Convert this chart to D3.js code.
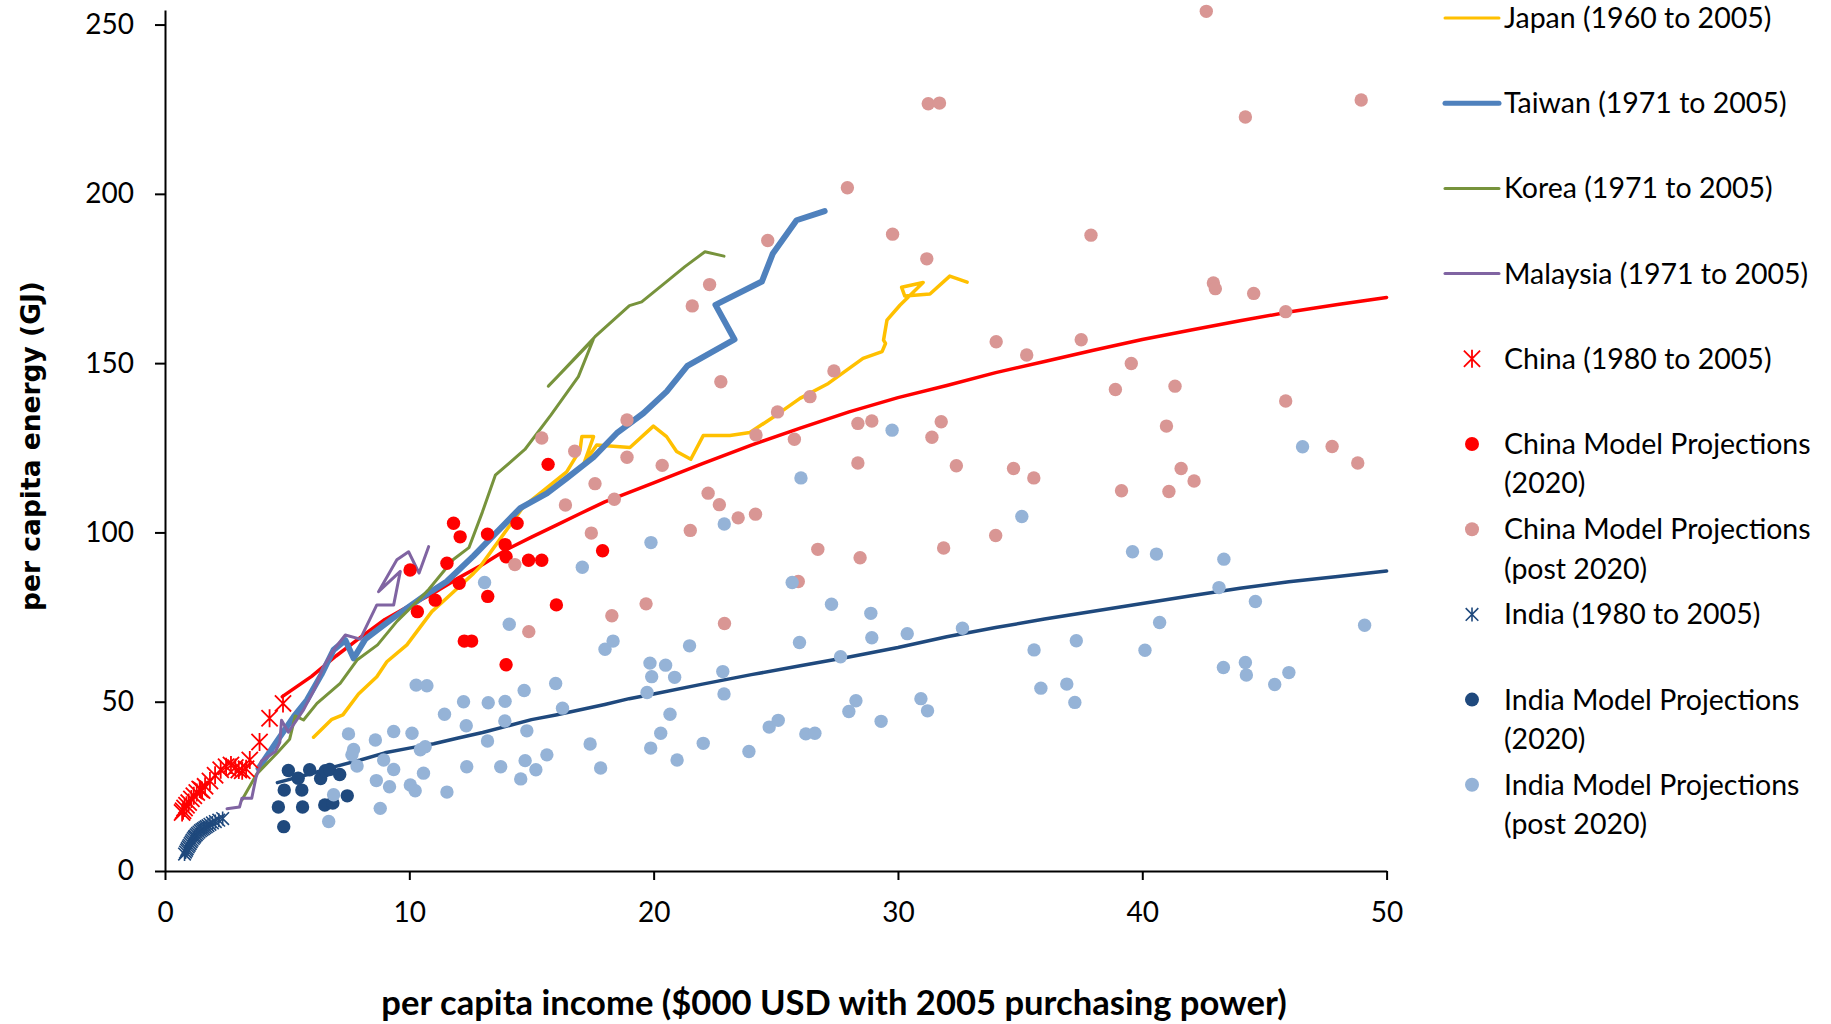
<!DOCTYPE html>
<html>
<head>
<meta charset="utf-8">
<script src="https://cdn.jsdelivr.net/npm/d3@7"></script>
<style>
  body { margin: 0; background: #fff; }
  text { font-family: Lato, "Open Sans", sans-serif; fill: #000; }
</style>
</head>
<body>
<div class="svg_area"></div>
<script>
// Energy vs income chart
// values: [income ($000), energy (GJ)]

var japan = [[6.08,39.5],[6.83,44.8],[7.28,46.1],[7.92,52.3],[8.67,57.4],[9.08,61.8],[9.90,66.8],[10.92,76.6],[11.67,81.5],[12.63,87.9],[12.90,89.9],[14.67,107.6],[16.44,117.9],[16.99,124.4],[17.06,128.3],[17.54,128.3],[17.15,120.4],[17.67,125.8],[19.03,125.1],[19.99,131.4],[20.53,128.3],[20.94,123.9],[21.52,121.6],[22.03,128.6],[23.12,128.6],[23.94,129.5],[25.03,134.7],[25.99,139.6],[27.15,144.0],[28.57,151.4],[29.35,153.4],[29.49,155.8],[29.41,156.8],[29.55,162.7],[30.08,167.1],[31.03,173.8],[30.15,172.4],[30.28,169.8],[31.31,170.4],[32.12,175.7],[32.83,173.9]];

var taiwan = [[3.83,30.3],[4.52,37.7],[5.27,45.6],[5.81,50.5],[6.40,58.0],[6.90,65.3],[7.38,68.2],[7.72,62.8],[8.20,68.5],[9.33,74.7],[10.61,81.2],[11.53,85.5],[12.62,93.0],[13.72,101.1],[14.54,107.2],[15.63,111.5],[16.44,116.0],[17.54,122.2],[18.49,129.3],[19.58,135.2],[20.53,141.6],[21.38,149.2],[23.31,157.0],[22.53,167.2],[24.43,174.1],[24.88,182.4],[25.85,192.2],[27.00,194.9]];

var korea = [[3.15,21.0],[3.75,28.6],[4.58,34.8],[5.10,38.9],[5.33,45.8],[5.67,44.6],[6.22,49.5],[7.17,55.4],[7.86,62.3],[8.70,66.8],[9.50,73.8],[10.30,79.5],[10.80,83.2],[11.80,92.0],[12.44,95.5],[12.99,106.0],[13.52,116.9],[14.73,124.5],[15.80,134.7],[16.92,146.0],[17.53,157.0],[15.69,143.2],[17.60,157.8],[19.01,167.0],[19.51,168.1],[20.53,174.1],[21.28,178.5],[22.10,182.9],[22.88,181.6]];

var malaysia = [[2.54,18.4],[3.05,18.9],[3.15,21.5],[3.55,21.5],[3.72,27.5],[3.95,32.5],[4.52,35.3],[4.70,38.0],[4.77,44.5],[5.05,41.0],[5.67,47.6],[6.10,53.5],[6.49,60.4],[6.90,65.3],[7.38,69.7],[7.99,68.5],[8.67,78.6],[9.36,78.6],[9.63,88.5],[8.74,82.5],[9.49,91.9],[9.97,94.3],[10.40,88.0],[10.79,95.8]];

var chinaHist = [[0.70,17.3],[0.74,17.8],[0.80,18.6],[0.88,19.4],[0.97,20.2],[1.08,21.3],[1.18,22.2],[1.30,23.2],[1.42,24.2],[1.47,24.0],[1.52,23.8],[1.64,25.0],[1.84,26.6],[2.05,28.3],[2.28,29.9],[2.50,30.8],[2.70,31.3],[2.88,30.6],[3.02,29.8],[3.16,29.6],[3.32,30.2],[3.47,32.8],[3.87,38.1],[4.28,45.1],[4.83,49.5]];

var china2020 = [[10.03,88.9],[10.33,76.6],[11.06,80.0],[11.54,90.9],[11.81,102.7],[12.08,98.7],[12.04,85.0],[12.25,67.9],[12.55,67.9],[13.20,99.5],[13.21,81.1],[13.92,96.4],[13.96,92.8],[13.96,60.9],[14.41,102.7],[14.88,91.8],[15.42,91.8],[15.68,120.1],[16.02,78.6],[17.91,94.6]];

var chinaPost = [[15.42,127.9],[16.77,124.0],[18.91,133.2],[18.91,122.2],[17.60,114.4],[16.39,108.1],[18.39,109.8],[17.45,99.8],[14.32,90.5],[18.29,75.4],[14.89,70.7],[19.69,78.9],[20.35,119.8],[21.58,166.9],[22.29,173.2],[22.75,144.5],[22.23,111.6],[22.69,108.2],[23.46,104.3],[24.17,105.4],[21.50,100.6],[22.90,73.1],[24.67,186.2],[25.07,135.6],[24.19,128.8],[25.76,127.5],[26.40,140.1],[27.38,147.7],[27.93,201.8],[28.36,132.2],[28.93,132.9],[28.36,120.5],[29.78,188.1],[26.72,95.0],[28.45,92.5],[25.92,85.5],[31.24,226.6],[31.70,226.8],[31.18,180.8],[31.77,132.7],[31.39,128.1],[32.39,119.7],[31.87,95.4],[34.02,156.3],[35.27,152.4],[34.73,118.9],[35.56,116.1],[34.00,99.1],[37.90,187.8],[37.50,156.9],[39.55,149.9],[38.90,142.2],[39.15,112.3],[42.62,253.9],[44.22,222.7],[48.96,227.7],[42.91,173.7],[42.99,172.0],[44.56,170.6],[45.87,165.2],[41.34,143.2],[45.87,138.8],[40.99,131.4],[47.77,125.4],[48.82,120.5],[41.59,118.9],[42.12,115.2],[41.09,112.1]];

var indiaHist = [[0.80,5.0],[0.84,5.6],[0.88,6.1],[0.91,6.6],[0.95,7.1],[0.99,7.6],[1.03,8.1],[1.07,8.6],[1.11,9.1],[1.16,9.6],[1.20,10.0],[1.23,10.3],[1.28,10.7],[1.33,11.1],[1.39,11.5],[1.45,11.9],[1.51,12.2],[1.57,12.5],[1.63,12.8],[1.69,13.1],[1.76,13.4],[1.84,13.8],[1.94,14.2],[2.06,14.6],[2.20,15.0],[2.36,15.5]];

var india2020 = [[4.64,18.9],[4.86,13.1],[4.88,23.9],[5.05,29.7],[5.45,27.4],[5.60,23.9],[5.63,18.9],[5.92,29.9],[6.37,27.3],[6.56,29.6],[6.74,30.0],[6.54,19.5],[6.87,20.1],[7.15,28.5],[7.46,22.2]];

var indiaPost = [[6.70,14.6],[6.90,22.5],[7.51,40.5],[7.72,35.9],[7.65,34.3],[7.86,31.0],[8.61,38.7],[8.95,32.8],[8.65,26.7],[9.19,24.9],[8.81,18.5],[9.36,41.2],[9.36,30.0],[10.11,40.7],[10.28,54.9],[10.72,54.7],[10.45,35.8],[10.65,36.7],[10.04,25.4],[10.24,23.7],[10.58,28.9],[11.44,46.3],[12.22,50.0],[12.33,42.9],[12.35,30.8],[11.54,23.3],[13.08,85.2],[17.08,89.7],[19.89,97.0],[14.09,72.9],[13.23,49.7],[13.92,50.1],[14.70,53.3],[15.99,55.4],[16.27,48.1],[13.91,44.3],[14.81,41.4],[13.20,38.4],[13.74,30.8],[14.74,32.6],[15.18,29.9],[14.56,27.2],[15.63,34.3],[17.40,37.5],[17.83,30.4],[18.01,65.5],[18.34,67.9],[19.85,61.4],[20.49,60.8],[19.92,57.4],[20.86,57.2],[19.73,52.7],[20.67,46.3],[20.29,40.7],[19.88,36.3],[20.96,32.8],[21.47,66.5],[22.03,37.7],[22.83,58.9],[22.88,52.3],[23.90,35.3],[24.73,42.5],[25.10,44.5],[25.67,85.2],[25.97,67.5],[26.23,40.5],[26.60,40.7],[27.28,78.8],[27.65,63.3],[27.99,47.1],[28.28,50.3],[28.89,76.1],[28.93,68.9],[29.31,44.2],[30.38,70.1],[22.89,102.5],[29.76,130.2],[46.56,125.3],[26.03,116.1],[35.07,104.7],[39.60,94.3],[40.58,93.6],[43.34,92.1],[43.14,83.7],[44.63,79.6],[32.64,71.7],[35.57,65.3],[37.30,68.0],[40.71,73.4],[40.11,65.2],[49.10,72.6],[43.32,60.1],[44.22,61.6],[44.26,57.9],[45.42,55.1],[46.00,58.6],[30.94,50.9],[31.21,47.3],[35.85,54.0],[36.91,55.2],[37.24,49.8]];

// model curves (no legend entry)
var chinaCurve = [[4.8,51.5],[6,57.5],[7,63.5],[8,69.0],[9,74.3],[10,78.3],[11,82.1],[12,86.5],[13,90.5],[14,95.0],[15,98.6],[16,102.1],[17,105.6],[18,109.0],[19,111.8],[20,114.6],[22,120.3],[24,125.8],[26,130.8],[28,135.6],[30,139.8],[32,143.4],[34,147.2],[36,150.5],[38,153.8],[40,157.0],[42,159.8],[44,162.5],[46,165.1],[48,167.3],[50,169.4]];

var indiaCurve = [[4.6,26.1],[6,28.8],[7,30.9],[8,32.8],[9,34.9],[10,36.3],[11,37.6],[12,39.3],[13,40.9],[14,42.8],[15,44.7],[16,46.1],[17,47.6],[18,49.2],[19,50.9],[20,52.3],[22,55.2],[24,58.0],[26,60.6],[28,63.2],[30,66.0],[32,69.2],[34,71.9],[36,74.4],[38,76.7],[40,79.0],[42,81.3],[44,83.5],[46,85.4],[48,87.0],[50,88.6]];

var xTicks = [0, 10, 20, 30, 40, 50];
var yTicks = [0, 50, 100, 150, 200, 250];

var legendLabels = [
  ["Japan (1960 to 2005)"],
  ["Taiwan (1971 to 2005)"],
  ["Korea (1971 to 2005)"],
  ["Malaysia (1971 to 2005)"],
  ["China (1980 to 2005)"],
  ["China Model Projections", "(2020)"],
  ["China Model Projections", "(post 2020)"],
  ["India (1980 to 2005)"],
  ["India Model Projections", "(2020)"],
  ["India Model Projections", "(post 2020)"]
];

// SVG area
var svgWidth = 1831;
var svgHeight = 1024;

var margin = { top: 10, right: 444, bottom: 153, left: 165 };
var chartWidth = svgWidth - margin.left - margin.right;
var chartHeight = svgHeight - margin.top - margin.bottom;

var svg = d3.select(".svg_area")
  .append("svg")
  .attr("width", svgWidth)
  .attr("height", svgHeight)
  .style("display", "block");

var chartGroup = svg.append("g")
  .attr("transform", `translate(${margin.left}, ${margin.top})`);

var xScale = d3.scaleLinear().domain([0, 50]).range([0, chartWidth - 0.4]);
var yScale = d3.scaleLinear().domain([0, 254.3]).range([chartHeight, 0]);

// axes
var bottomAxis = d3.axisBottom(xScale).tickValues(xTicks).tickSize(9).tickSizeOuter(0).tickPadding(22);
var leftAxis = d3.axisLeft(yScale).tickValues(yTicks).tickSize(10).tickSizeOuter(0).tickPadding(21);

var xAxisG = chartGroup.append("g")
  .attr("transform", `translate(0, ${chartHeight})`)
  .call(bottomAxis);
var yAxisG = chartGroup.append("g").call(leftAxis);

[xAxisG, yAxisG].forEach(function(g) {
  g.selectAll("path, line").attr("stroke", "#000").attr("stroke-width", 2);
  g.selectAll("text").style("font-size", "28px").style("font-family", "Lato, sans-serif").attr("fill", "#000");
});

// asterisk marker: vertical bar plus an X
function asterisk(h) {
  var d = h * 0.9;
  return `M0,${-h}L0,${h}M${-d},${-d}L${d},${d}M${-d},${d}L${d},${-d}`;
}

var line = d3.line().x(d => xScale(d[0])).y(d => yScale(d[1]));

function drawLine(data, color, width) {
  chartGroup.append("path")
    .datum(data)
    .attr("d", line)
    .attr("fill", "none")
    .attr("stroke", color)
    .attr("stroke-width", width)
    .attr("stroke-linejoin", "round")
    .attr("stroke-linecap", "round");
}

function drawDots(data, color) {
  chartGroup.append("g").selectAll("circle")
    .data(data)
    .enter()
    .append("circle")
    .attr("cx", d => xScale(d[0]))
    .attr("cy", d => yScale(d[1]))
    .attr("r", 6.7)
    .attr("fill", color);
}

function drawStars(data, color, h, width) {
  chartGroup.append("g").selectAll("path")
    .data(data)
    .enter()
    .append("path")
    .attr("transform", d => `translate(${xScale(d[0])}, ${yScale(d[1])})`)
    .attr("d", asterisk(h))
    .attr("fill", "none")
    .attr("stroke", color)
    .attr("stroke-width", width);
}

drawLine(chinaCurve, "#FF0000", 3.5);
drawLine(indiaCurve, "#1F497D", 3.5);
drawLine(japan, "#FFC000", 3.5);
drawLine(taiwan, "#4F81BD", 6);
drawLine(korea, "#77933C", 3);
drawLine(malaysia, "#8064A2", 3);
drawStars(chinaHist, "#FF0000", 9, 1.8);
drawDots(china2020, "#FF0000");
drawDots(chinaPost, "#D99694");
drawStars(indiaHist, "#1F497D", 7, 1.6);
drawDots(india2020, "#1F497D");
drawDots(indiaPost, "#95B3D7");

// axis titles
var xTitle = svg.append("text")
  .attr("x", 834)
  .attr("y", 1015)
  .attr("text-anchor", "middle")
  .style("font-family", "Lato, sans-serif")
  .style("font-weight", "bold")
  .style("font-size", "34.6px")
  .text("per capita income ($000 USD with 2005 purchasing power)");

var yTitle = svg.append("text")
  .attr("transform", "translate(40, 446) rotate(-90)")
  .attr("text-anchor", "middle")
  .style("font-family", "'DejaVu Sans', sans-serif")
  .style("font-weight", "bold")
  .style("font-size", "26.5px")
  .text("per capita energy (GJ)");

// legend
var legendStyles = [
  { kind: "line", color: "#FFC000", width: 3 },
  { kind: "line", color: "#4F81BD", width: 5 },
  { kind: "line", color: "#77933C", width: 3 },
  { kind: "line", color: "#8064A2", width: 3 },
  { kind: "star", color: "#FF0000", size: 9, width: 1.8 },
  { kind: "dot", color: "#FF0000" },
  { kind: "dot", color: "#D99694" },
  { kind: "star", color: "#1F497D", size: 7, width: 1.6 },
  { kind: "dot", color: "#1F497D" },
  { kind: "dot", color: "#95B3D7" }
];

var legend = svg.append("g").attr("transform", "translate(1445, 18)");

legendLabels.forEach(function(lines, i) {
  var st = legendStyles[i];
  var g = legend.append("g").attr("transform", `translate(0, ${i * 85.2})`);
  if (st.kind === "line") {
    g.append("line")
      .attr("x1", 0).attr("x2", 54)
      .attr("stroke", st.color)
      .attr("stroke-width", st.width)
      .attr("stroke-linecap", "round");
  } else if (st.kind === "dot") {
    g.append("circle").attr("cx", 27).attr("r", 7).attr("fill", st.color);
  } else {
    g.append("path")
      .attr("transform", "translate(27, 0)")
      .attr("d", asterisk(st.size))
      .attr("fill", "none")
      .attr("stroke", st.color)
      .attr("stroke-width", st.width);
  }
  var t = g.append("text")
    .attr("x", 59)
    .attr("y", 0)
    .style("font-size", "28.5px");
  lines.forEach(function(txt, j) {
    t.append("tspan")
      .attr("x", 59)
      .attr("y", j * 39.5)
      .attr("dy", "0.35em")
      .text(txt);
  });
});
</script>
</body>
</html>
